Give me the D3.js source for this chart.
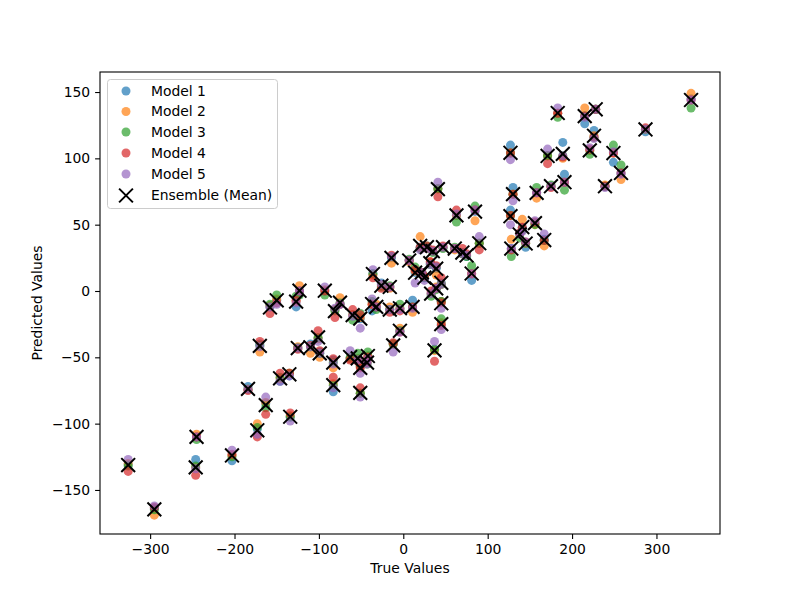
<!DOCTYPE html>
<html>
<head>
<meta charset="utf-8">
<script src="https://cdn.jsdelivr.net/npm/d3@7/dist/d3.min.js"></script>
<style>
  body { margin: 0; background: #fff; }
  svg text { font-family: "DejaVu Sans", sans-serif; }
</style>
</head>
<body>
<svg id="chart" width="800" height="600"></svg>
<script>
// True values
const trueValues = [-326,-295,-245,-246,-203,-184,-173,-170,-163,-158,-150,-146,-135,-134,-127,-123,-125,-110,-101,-99,-93,-83,-83,-81,-75,-63,-60,-54,-51,-51,-51,-43,-42,-37,-36,-32,-26,-16,-16,-14,-12,-4,-4,7,11,14,20,22,25,28,32,33,35,37,39,39,41,45,45,45,47,61,63,70,75,81,85,90,127,130,127,128,141,138,145,156,158,167,171,175,183,189,191,215,221,226,228,239,249,258,287,341];
// Model predictions
const model1 = [-131,-164,-110,-127,-128,-72,-104,-40,-85,-12,-7,-68,-64,-95,-12,0,-43,-40,-36,-46,0,-52,-76,-14,-10,-51,-18,-51,-21,-57,-77,-54,-49,-15,13,-12,6,3,-14,25,-40,-13,-30,23,-7,14,33,14,10,33,21,-2,30,-44,17,2,77,6,-8,-25,33,32,57,29,26,8,60,36,110,78,61,32,48,43,33,51,74,39,102,79,134,112,88,126,106,121,137,79,97,89,120,145];
const model2 = [-130,-169,-108,-133,-124,-74,-100,-46,-84,-11,-6,-66,-62,-94,-8,4,-42,-47,-36,-50,1,-58,-70,-14,-5,-51,-18,-51,-20,-57,-77,-52,-49,-10,12,-10,4,2,-12,21,-40,-13,-28,22,-16,15,41,14,11,32,22,-2,30,-45,12,3,77,5,-8,-24,33,31,57,28,27,13,53,36,104,73,57,39,54,43,36,50,70,34,102,79,134,100,82,138,106,117,137,80,104,84,122,149];
const model3 = [-132,-165,-112,-132,-125,-74,-103,-41,-88,-10,-3,-65,-62,-95,-4,-3,-43,-42,-35,-47,-3,-54,-71,-15,-9,-50,-22,-47,-17,-56,-77,-55,-46,-8,13,-14,3,4,-14,26,-40,-10,-30,24,-12,18,32,14,10,34,20,-4,29,-44,18,1,77,5,-8,-21,32,33,52,28,26,19,64,36,104,73,57,26,46,40,36,50,78,38,102,80,131,102,76,132,103,116,137,79,110,95,122,138];
const model4 = [-136,-163,-110,-139,-123,-75,-110,-38,-93,-17,-9,-62,-62,-92,-7,0,-44,-41,-30,-45,0,-51,-65,-20,-10,-52,-14,-53,-18,-58,-73,-54,-50,-10,10,-12,2,3,-16,27,-39,-15,-31,23,-12,16,33,14,11,34,22,0,31,-53,19,2,71,10,-9,-26,34,32,61,32,28,13,61,31,104,73,57,31,48,44,37,52,74,38,96,78,134,101,82,132,107,116,137,79,104,89,123,144];
const model5 = [-127,-162,-110,-134,-120,-74,-108,-42,-80,-12,-10,-68,-64,-98,-9,0,-43,-42,-38,-47,3,-55,-73,-13,-10,-45,-19,-52,-28,-62,-80,-55,-51,-6,16,-12,5,3,-14,26,-46,-14,-31,23,-13,6,31,14,8,32,20,-2,30,-38,18,2,82,5,-13,-29,33,32,58,28,27,13,61,41,99,68,50,32,45,43,37,53,74,43,107,79,138,102,82,131,108,115,137,78,105,88,122,144];

const seriesNames = ["Model 1","Model 2","Model 3","Model 4","Model 5"];
const seriesColors = ["#1f77b4","#ff7f0e","#2ca02c","#d62728","#9467bd"];
const models = [model1, model2, model3, model4, model5];
const ensembleLabel = "Ensemble (Mean)";
const xTicks = [-300,-200,-100,0,100,200,300];
const yTicks = [-150,-100,-50,0,50,100,150];
const xLabel = "True Values";
const yLabel = "Predicted Values";

const ensemble = trueValues.map((_, i) => d3.mean(models, m => m[i]));

const svg = d3.select("#chart");
const L = 100, R = 720, T = 72, B = 534;
const x = d3.scaleLinear().domain([-359.4, 375.3]).range([L, R]);
const y = d3.scaleLinear().domain([-183.2, 165.1]).range([B, T]);

const fmt = d => (d < 0 ? "\u2212" + Math.abs(d) : String(d));
const rad = 4.5;

// points
const plot = svg.append("g");
models.forEach((m, k) => {
  plot.append("g").selectAll("circle").data(trueValues).enter().append("circle")
    .attr("cx", d => x(d))
    .attr("cy", (d, i) => y(m[i]))
    .attr("r", rad)
    .attr("fill", seriesColors[k])
    .attr("fill-opacity", 0.7);
});
const xs = 6.9;
const ens = plot.append("g").attr("stroke", "#000").attr("stroke-width", 2);
trueValues.forEach((d, i) => {
  const cx = x(d), cy = y(ensemble[i]);
  ens.append("path").attr("d", `M${cx-xs},${cy-xs}L${cx+xs},${cy+xs}M${cx-xs},${cy+xs}L${cx+xs},${cy-xs}`);
});

// axes
const xAxis = svg.append("g").attr("transform", `translate(0,${B})`)
  .call(d3.axisBottom(x).tickValues(xTicks).tickFormat(fmt).tickSize(4.9).tickPadding(4.9));
const yAxis = svg.append("g").attr("transform", `translate(${L},0)`)
  .call(d3.axisLeft(y).tickValues(yTicks).tickFormat(fmt).tickSize(4.9).tickPadding(4.9));
[xAxis, yAxis].forEach(a => {
  a.select(".domain").remove();
  a.selectAll("line").attr("stroke", "#000").attr("stroke-width", 1.1);
  a.selectAll("text").attr("font-size", "13.9px").attr("fill", "#000").attr("font-family", "DejaVu Sans");
});
svg.append("rect").attr("x", L).attr("y", T).attr("width", R - L).attr("height", B - T)
  .attr("fill", "none").attr("stroke", "#000").attr("stroke-width", 1.1);

svg.append("text").attr("x", (L + R) / 2).attr("y", 573).attr("text-anchor", "middle")
  .attr("font-size", "13.9px").text(xLabel);
svg.append("text").attr("transform", `translate(42,${(T + B) / 2}) rotate(-90)`).attr("text-anchor", "middle")
  .attr("font-size", "13.9px").text(yLabel);

// legend
const lg = svg.append("g");
lg.append("rect").attr("x", 107.5).attr("y", 79.5).attr("width", 170).attr("height", 129).attr("rx", 3)
  .attr("fill", "#fff").attr("fill-opacity", 0.8).attr("stroke", "#cccccc");
const rowY = [91, 111.5, 132, 153, 174, 195.5];
seriesNames.forEach((n, k) => {
  lg.append("circle").attr("cx", 126).attr("cy", rowY[k]).attr("r", rad)
    .attr("fill", seriesColors[k]).attr("fill-opacity", 0.7);
  lg.append("text").attr("x", 151).attr("y", rowY[k]).attr("dy", "0.35em").attr("font-size", "13.9px").text(n);
});
{
  const cx = 126, cy = rowY[5];
  lg.append("path").attr("d", `M${cx-xs},${cy-xs}L${cx+xs},${cy+xs}M${cx-xs},${cy+xs}L${cx+xs},${cy-xs}`)
    .attr("stroke", "#000").attr("stroke-width", 2);
  lg.append("text").attr("x", 151).attr("y", cy).attr("dy", "0.35em").attr("font-size", "13.9px").text(ensembleLabel);
}
</script>
</body>
</html>
